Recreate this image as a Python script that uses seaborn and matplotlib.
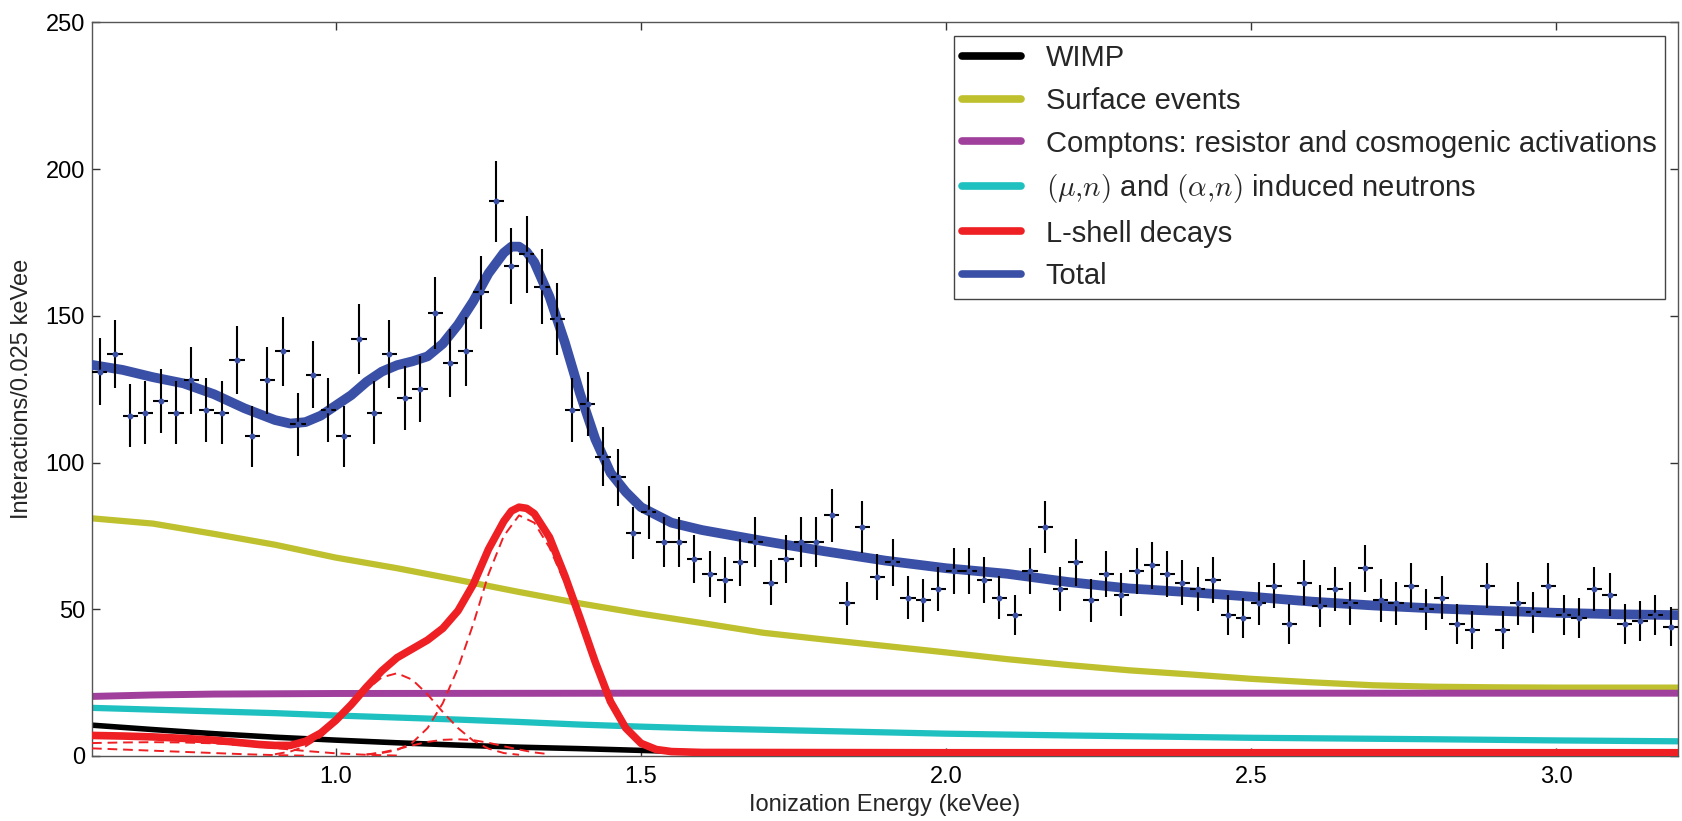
import numpy as np
import pandas as pd
import matplotlib
matplotlib.use("Agg")
import matplotlib.pyplot as plt
import seaborn as sns

# ---------------- data ----------------
bin_start = 0.6
bin_width = 0.025
counts = [131, 137, 116, 117, 121, 117, 128, 118, 117, 135,
          109, 128, 138, 113, 130, 118, 109, 142, 117, 137,
          122, 125, 151, 134, 138, 158, 189, 167, 171, 160,
          149, 118, 120, 102, 95, 76, 83, 73, 73, 67,
          62, 60, 66, 73, 59, 67, 73, 73, 82, 52,
          78, 61, 66, 54, 53, 57, 63, 63, 60, 54,
          48, 63, 78, 57, 66, 53, 62, 55, 63, 65,
          62, 59, 57, 60, 48, 47, 52, 58, 45, 59,
          51, 57, 52, 64, 53, 52, 58, 50, 54, 45,
          43, 58, 43, 52, 49, 58, 48, 47, 57, 55,
          45, 46, 48, 44]

wimp_x = [0.6, 0.7, 0.8, 0.9, 1.0, 1.1, 1.2, 1.3, 1.4, 1.5, 1.6, 1.7, 1.8, 2.0, 2.5, 3.2]
wimp_y = [10.5, 9.0, 7.6, 6.4, 5.4, 4.5, 3.7, 3.0, 2.5, 1.9, 1.3, 0.9, 0.6, 0.3, 0.1, 0.0]

surf_x = [0.6, 0.7, 0.8, 0.9, 1.0, 1.1, 1.2, 1.3, 1.4, 1.5, 1.6, 1.7, 1.8, 1.9,
          2.0, 2.1, 2.2, 2.3, 2.4, 2.5, 2.6, 2.7, 2.8, 2.9, 3.0, 3.1, 3.2]
surf_y = [81.0, 79.2, 75.7, 72.0, 67.6, 64.0, 60.0, 55.9, 52.0, 48.5, 45.3, 42.0, 39.7, 37.5,
          35.3, 33.0, 31.0, 29.2, 27.8, 26.3, 25.1, 24.1, 23.6, 23.4, 23.3, 23.3, 23.3]

compton_x = [0.6, 0.7, 0.8, 1.0, 1.5, 2.0, 2.5, 3.2]
compton_y = [20.3, 20.8, 21.1, 21.3, 21.4, 21.4, 21.4, 21.4]

neutron_x = [0.6, 0.7, 0.8, 0.9, 1.0, 1.1, 1.2, 1.3, 1.4, 1.5, 1.6, 1.8, 2.0, 2.2, 2.5, 2.8, 3.0, 3.2]
neutron_y = [16.4, 15.8, 15.2, 14.6, 13.8, 13.1, 12.4, 11.6, 10.7, 10.0, 9.4, 8.5, 7.6, 7.0, 6.2, 5.7, 5.3, 5.0]

lshell_x = [0.6, 0.65, 0.7, 0.75, 0.8, 0.85, 0.875, 0.9, 0.925, 0.95, 0.975, 1.0, 1.025,
            1.05, 1.075, 1.1, 1.125, 1.15, 1.175, 1.2, 1.225, 1.25, 1.275, 1.2875, 1.3,
            1.3125, 1.325, 1.35, 1.375, 1.4, 1.425, 1.45, 1.475, 1.5, 1.525, 1.55, 1.6,
            2.0, 2.5, 3.0, 3.2]
lshell_y = [7.0, 6.8, 6.5, 6.0, 5.4, 4.4, 3.9, 3.6, 3.6, 5.0, 7.8, 12.2, 17.5,
            23.5, 29.0, 33.5, 36.5, 39.5, 43.5, 49.5, 58.5, 70.5, 80.0, 83.5, 84.8,
            84.4, 82.6, 74.5, 61.5, 47.0, 32.0, 18.5, 9.5, 4.3, 2.2, 1.5, 1.2,
            1.1, 1.1, 1.1, 1.1]

# individual L-shell lines (dashed)
line1_x = [1.05, 1.075, 1.1, 1.125, 1.15, 1.175, 1.2, 1.225, 1.25, 1.275, 1.3, 1.325,
           1.35, 1.375, 1.4, 1.425, 1.45, 1.475, 1.5, 1.525, 1.55]
line1_y = [0.5, 1.0, 2.0, 4.5, 9.5, 18.0, 30.0, 45.0, 62.0, 75.0, 82.0, 79.5,
           71.0, 59.0, 45.0, 31.0, 19.0, 10.0, 4.5, 2.0, 0.8]
line2_x = [0.9, 0.925, 0.95, 0.975, 1.0, 1.025, 1.05, 1.075, 1.1, 1.125, 1.15, 1.175,
           1.2, 1.225, 1.25, 1.275, 1.3]
line2_y = [0.6, 1.5, 3.3, 6.5, 11.2, 17.0, 22.5, 26.8, 28.2, 26.0, 21.0, 15.0,
           9.5, 5.2, 2.5, 1.0, 0.4]
line3_x = [1.05, 1.075, 1.1, 1.125, 1.15, 1.175, 1.2, 1.225, 1.25, 1.275, 1.3, 1.325, 1.35]
line3_y = [0.5, 1.2, 2.3, 3.6, 4.8, 5.5, 5.7, 5.4, 4.5, 3.3, 2.2, 1.2, 0.6]
line4_x = [0.6, 0.65, 0.7, 0.75, 0.8, 0.85, 0.9, 0.95, 1.0, 1.05, 1.1]
line4_y = [4.4, 4.6, 4.7, 4.6, 4.3, 3.6, 2.7, 1.7, 0.9, 0.4, 0.15]
line5_x = [0.6, 0.65, 0.7, 0.75, 0.8, 0.85, 0.9, 0.95]
line5_y = [2.6, 2.2, 1.8, 1.4, 1.0, 0.6, 0.3, 0.1]

total_x = [0.6, 0.65, 0.7, 0.75, 0.8, 0.85, 0.9, 0.925, 0.95, 0.975, 1.0, 1.025, 1.05,
           1.075, 1.1, 1.125, 1.15, 1.175, 1.2, 1.225, 1.25, 1.275, 1.2875, 1.3, 1.3125,
           1.325, 1.35, 1.375, 1.4, 1.425, 1.45, 1.475, 1.5, 1.55, 1.6, 1.7, 1.8, 1.9,
           2.0, 2.1, 2.2, 2.3, 2.4, 2.5, 2.6, 2.7, 2.8, 2.9, 3.0, 3.1, 3.2]
total_y = [133.3, 131.6, 129.1, 127.0, 123.3, 118.5, 114.5, 113.3, 113.8, 116.0, 119.5, 123.0, 127.5,
           131.0, 133.2, 134.5, 136.2, 140.5, 147.0, 155.0, 164.5, 171.5, 173.6, 173.6, 171.8,
           168.3, 156.5, 141.0, 123.5, 108.0, 96.5, 90.0, 84.8, 79.5, 77.0, 73.3, 69.8, 66.6,
           64.0, 62.1, 59.3, 57.1, 55.8, 54.3, 52.6, 51.3, 50.3, 49.5, 48.8, 48.3, 48.0]

labels = ["WIMP", "Surface events", "Comptons: resistor and cosmogenic activations",
          r"$(\mu{,}n)$ and $(\alpha{,}n)$ induced neutrons", "L-shell decays", "Total"]
x_ticks = [1.0, 1.5, 2.0, 2.5, 3.0]
y_ticks = [0, 50, 100, 150, 200, 250]

# ---------------- style ----------------
sns.set_style("ticks")
plt.rcParams['font.family'] = ['Liberation Sans', 'DejaVu Sans']
plt.rcParams['mathtext.fontset'] = 'cm'

c_black = "#000000"
c_yellow = "#bfc02e"
c_purple = "#a0409c"
c_cyan = "#1ec0c0"
c_red = "#ee2024"
c_blue = "#3a50a6"

fig = plt.figure(figsize=(16.82, 8.21), dpi=100)
ax = fig.add_axes([0.0547, 0.0792, 0.943, 0.8934])

centers = bin_start + bin_width * (np.arange(len(counts)) + 0.5)
data = pd.DataFrame({"E": centers, "N": counts})
yerr = np.sqrt(data["N"].to_numpy(dtype=float))

def curve(xs, ys, **kw):
    sns.lineplot(x=np.asarray(xs), y=np.asarray(ys), ax=ax, sort=False,
                 estimator=None, **kw)

curve(wimp_x, wimp_y, color=c_black, linewidth=4.0, label=labels[0], zorder=2)
curve(surf_x, surf_y, color=c_yellow, linewidth=4.5, label=labels[1], zorder=2)
curve(compton_x, compton_y, color=c_purple, linewidth=5.0, label=labels[2], zorder=2)
curve(neutron_x, neutron_y, color=c_cyan, linewidth=4.5, label=labels[3], zorder=2)
for lx, ly in [(line1_x, line1_y), (line2_x, line2_y), (line3_x, line3_y),
               (line4_x, line4_y), (line5_x, line5_y)]:
    curve(lx, ly, color=c_red, linewidth=1.4, linestyle=(0, (5, 3)), zorder=3)
curve(lshell_x, lshell_y, color=c_red, linewidth=5.5, label=labels[4], zorder=3)
curve(total_x, total_y, color=c_blue, linewidth=7.0, label=labels[5], zorder=4)

ax.errorbar(data["E"], data["N"], yerr=yerr, xerr=bin_width / 2, fmt='o', ms=3.2,
            mfc=c_blue, mec=c_blue, ecolor='black', elinewidth=1.5, capsize=0, zorder=5)

ax.set_xlim(0.6, 3.2)
ax.set_ylim(0, 250)
ax.set_xticks(x_ticks)
ax.set_xticklabels([f"{t:.1f}" for t in x_ticks])
ax.set_yticks(y_ticks)
ax.set_yticklabels([str(t) for t in y_ticks])
ax.tick_params(axis='both', direction='in', length=6, width=1, top=True, right=True,
               labelsize=17, colors='#333333', labelcolor='black')
ax.tick_params(axis='x', pad=7)
ax.tick_params(axis='y', pad=5)
for sp in ax.spines.values():
    sp.set_visible(True)
    sp.set_color('#555555')
    sp.set_linewidth(1.0)

ax.set_xlabel("Ionization Energy (keVee)", fontsize=17)
ax.set_ylabel("Interactions/0.025 keVee", fontsize=17)
ax.xaxis.set_label_coords(0.5, -0.052)
ax.yaxis.set_label_coords(-0.037, 0.5)

handles, labs = ax.get_legend_handles_labels()
order = [labs.index(l) for l in labels]
leg = ax.legend([handles[i] for i in order], [labs[i] for i in order],
                loc='upper right', fontsize=21, frameon=True, fancybox=False,
                edgecolor='#444444', framealpha=1.0, borderaxespad=0.45,
                handlelength=2.0, handletextpad=0.85, labelspacing=0.5, borderpad=0.3)
leg.get_frame().set_linewidth(1.0)
for h in leg.get_lines():
    h.set_linewidth(5.5)

fig.savefig("out.png", dpi=100)
